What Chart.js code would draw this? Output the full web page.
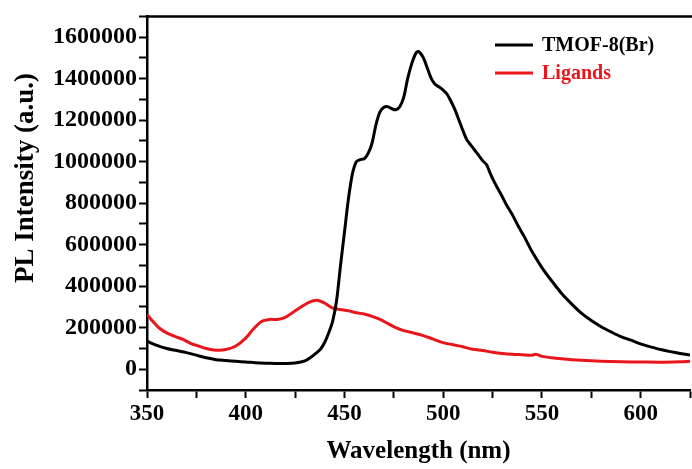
<!DOCTYPE html>
<html>
<head>
<meta charset="utf-8">
<script src="https://cdn.jsdelivr.net/npm/chart.js@4"></script>
<style>
    html, body { margin: 0; padding: 0; background: #fff; }
    #wrap { width: 692px; height: 469px; }
</style>
</head>
<body>
<div id="wrap"><canvas id="plChart"></canvas></div>
<script>
// emission spectra
const tmofWl = [350, 355, 360, 365, 370, 375, 380, 385, 390, 395, 400, 405, 410, 415, 420, 425, 430, 433, 436, 438,
    440, 442, 444, 446, 448, 450, 452, 454, 456, 458, 460, 462, 464, 466, 468, 470, 472, 474, 476, 478,
    480, 482, 484, 486, 487, 488, 490, 492, 494, 496, 498, 500, 502, 504, 506, 508, 510, 512, 514, 516,
    518, 520, 522, 524, 526, 528, 530, 532, 535, 538, 541, 545, 550, 555, 560, 565, 570, 575, 580, 585,
    590, 595, 600, 605, 610, 615, 620, 625];
const tmofI = [135000, 115000, 100000, 90000, 80000, 68000, 55000, 46000, 42000, 38000, 35000, 31000, 29000, 28000, 28000, 30000, 40000, 58000, 80000, 98000,
    130000, 175000, 231000, 330000, 500000, 660000, 820000, 940000, 1000000, 1010000, 1014000, 1040000, 1090000, 1180000, 1240000, 1262000, 1265000, 1255000, 1250000, 1265000,
    1310000, 1400000, 1470000, 1520000, 1530000, 1528000, 1500000, 1450000, 1400000, 1372000, 1360000, 1345000, 1325000, 1290000, 1250000, 1200000, 1150000, 1105000, 1080000, 1055000,
    1030000, 1005000, 985000, 940000, 900000, 865000, 830000, 793000, 745000, 690000, 640000, 567000, 490000, 425000, 365000, 315000, 270000, 235000, 205000, 180000,
    157000, 140000, 122000, 108000, 95000, 85000, 76000, 68000];

const ligWl = [350, 353, 356, 360, 365, 368, 372, 376, 380, 385, 390, 395, 400, 404, 408, 412, 416, 420, 424, 428,
    432, 436, 440, 444, 448, 452, 456, 460, 464, 468, 472, 476, 480, 485, 490, 495, 500, 505, 510, 515,
    520, 525, 530, 535, 540, 545, 547, 550, 555, 560, 565, 570, 575, 580, 590, 600, 610, 620, 625];
const ligI = [264000, 230000, 200000, 175000, 155000, 145000, 125000, 112000, 100000, 92000, 95000, 112000, 150000, 195000, 230000, 240000, 240000, 250000, 275000, 300000,
    322000, 332000, 318000, 295000, 288000, 282000, 272000, 266000, 255000, 240000, 220000, 200000, 186000, 175000, 162000, 145000, 128000, 118000, 108000, 96000,
    90000, 82000, 76000, 72000, 70000, 68000, 72000, 62000, 55000, 50000, 46000, 43000, 41000, 39000, 36000, 35000, 34000, 36000, 38000];

const seriesNames = ['TMOF-8(Br)', 'Ligands'];
const seriesColors = ['#000000', '#e8161b'];

const xMin = 350, xMax = 625, xStep = 25;
const yMin = -100000, yMax = 1700000, yStep = 100000;

const serif = "'Liberation Serif', 'Times New Roman', serif";

function toPoints(xs, ys) {
    return xs.map(function (x, i) { return { x: x, y: ys[i] }; });
}

// frame line on top, rotated y title and the legend in the corner
const decorations = {
    id: 'decorations',
    afterDraw: function (chart) {
        const ctx = chart.ctx;
        const area = chart.chartArea;
        ctx.save();
        ctx.strokeStyle = '#000';
        ctx.lineWidth = 2.5;
        ctx.beginPath();
        ctx.moveTo(area.left - 1, area.top);
        ctx.lineTo(area.right + 2, area.top);
        ctx.stroke();

        ctx.fillStyle = '#000';
        ctx.font = 'bold 27px ' + serif;
        ctx.textAlign = 'center';
        ctx.textBaseline = 'middle';
        ctx.translate(26, 178);
        ctx.rotate(-Math.PI / 2);
        ctx.fillText('PL Intensity (a.u.)', 0, 0);
        ctx.restore();

        ctx.save();
        ctx.font = 'bold 20px ' + serif;
        ctx.textBaseline = 'middle';
        chart.data.datasets.forEach(function (ds, i) {
            const y = 45 + i * 28;
            ctx.strokeStyle = ds.borderColor;
            ctx.lineWidth = 3;
            ctx.beginPath();
            ctx.moveTo(495, y);
            ctx.lineTo(533, y);
            ctx.stroke();
            ctx.fillStyle = ds.borderColor;
            ctx.fillText(ds.label, 542, y + 1);
        });
        ctx.restore();
    }
};

new Chart(document.getElementById('plChart'), {
    type: 'line',
    data: {
        datasets: [
            {
                label: seriesNames[0],
                data: toPoints(tmofWl, tmofI),
                borderColor: seriesColors[0],
                borderWidth: 3,
                pointRadius: 0,
                tension: 0.3,
                fill: false
            },
            {
                label: seriesNames[1],
                data: toPoints(ligWl, ligI),
                borderColor: seriesColors[1],
                borderWidth: 3,
                pointRadius: 0,
                tension: 0.3,
                fill: false
            }
        ]
    },
    options: {
        responsive: true,
        maintainAspectRatio: false,
        animation: false,
        layout: { padding: { top: 15, right: 1, left: 0, bottom: 0 } },
        plugins: {
            legend: { display: false },
            tooltip: { enabled: false }
        },
        scales: {
            x: {
                type: 'linear',
                min: xMin,
                max: xMax,
                afterFit: function (scale) { scale.height = 79; },
                border: { color: '#000', width: 2.5 },
                grid: { drawOnChartArea: false, tickLength: 8, tickColor: '#000', tickWidth: 2 },
                ticks: {
                    stepSize: xStep,
                    autoSkip: false,
                    maxRotation: 0,
                    padding: 2,
                    color: '#000',
                    font: { family: serif, size: 23, weight: 'bold' },
                    callback: function (v) { return v % 50 === 0 ? String(v) : ''; }
                },
                title: {
                    display: true,
                    text: 'Wavelength (nm)',
                    color: '#000',
                    font: { family: serif, size: 25, weight: 'bold' },
                    padding: { top: 0, bottom: 2 }
                }
            },
            y: {
                min: yMin,
                max: yMax,
                afterFit: function (scale) { scale.width = 147; },
                border: { color: '#000', width: 2.5 },
                grid: { drawOnChartArea: false, tickLength: 8, tickColor: '#000', tickWidth: 2 },
                ticks: {
                    stepSize: yStep,
                    autoSkip: false,
                    padding: 2,
                    color: '#000',
                    font: { family: serif, size: 24, weight: 'bold' },
                    callback: function (v) { return (v >= 0 && v % 200000 === 0) ? String(v) : ''; }
                }
            }
        }
    },
    plugins: [decorations]
});
</script>
</body>
</html>
